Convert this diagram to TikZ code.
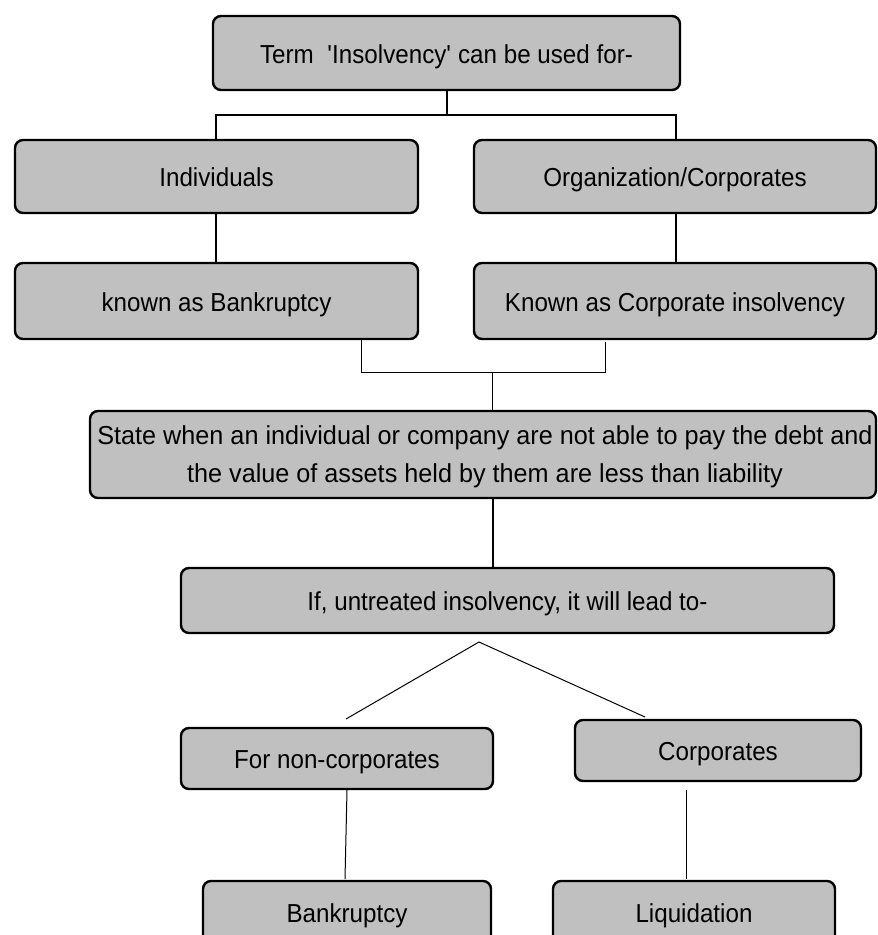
\documentclass[tikz,border=0pt]{standalone}
\usepackage{fontspec}
\setmainfont{Liberation Sans}[FakeStretch=0.93]
\newfontfamily\widefont{Liberation Sans}[FakeStretch=0.97]
\begin{document}
\begin{tikzpicture}[x=1pt,y=-1pt,
  box/.style={draw=black, line width=2.4pt, fill=boxgray, rounded corners=8pt,
    inner sep=0pt, align=center, font=\fontsize{26}{38}\selectfont,
    text height=24pt, text depth=3.4pt},
  tallbox/.style={box, text height=, text depth=},
  thickline/.style={draw=black, line width=2.2pt},
  thinline/.style={draw=black, line width=1pt}]
\definecolor{boxgray}{RGB}{192,192,192}
\useasboundingbox (0,0) rectangle (878,935);

% boxes
\node[box, minimum width=467pt, minimum height=74pt] (top) at (446.5,53) {Term\ \ \textquotesingle Insolvency\textquotesingle\ can be used for-};
\node[box, minimum width=403pt, minimum height=73pt] (ind) at (216.5,176.5) {Individuals};
\node[box, minimum width=402pt, minimum height=73pt] (org) at (675,176.5) {Organization/Corporates};
\node[box, minimum width=403pt, minimum height=76pt] (kab) at (216.5,301) {known as Bankruptcy};
\node[box, minimum width=402pt, minimum height=76pt] (kac) at (675,301) {Known as Corporate insolvency};
\node[tallbox, minimum width=786pt, minimum height=87pt] (state) at (483,454.5) {};
\node[font=\widefont\fontsize{26}{38}\selectfont, align=center, inner sep=0pt] (statetext) at (485,457)
  {State when an individual or company are not able to pay the debt and\\the value of assets held by them are less than liability};
\node[box, minimum width=653pt, minimum height=65pt] (lead) at (507.5,600.5) {If, untreated insolvency, it will lead to-};
\node[box, minimum width=312pt, minimum height=61pt] (nonc) at (337,758.5) {For non-corporates};
\node[box, minimum width=286pt, minimum height=61pt] (corp) at (718,750.5) {Corporates};
\node[box, minimum width=288pt, minimum height=62pt] (bank) at (347,912) {Bankruptcy};
\node[box, minimum width=282pt, minimum height=62pt] (liq) at (694,912) {Liquidation};

% upper tree
\coordinate (tj) at (447,115);
\draw[thickline] (top.south -| tj) -- (tj);
\draw[thickline] (ind.north -| 216,0) |- (tj) -| (org.north -| 676,0);
\draw[thickline] (ind.south -| 216,0) -- (kab.north -| 216,0);
\draw[thickline] (org.south -| 676,0) -- (kac.north -| 676,0);

% joining bracket
\coordinate (jL) at (361,372);
\coordinate (jR) at (605,372);
\coordinate (jRtop) at (605,342);
\coordinate (jC) at (492,372);
\draw[thinline] (kab.south -| jL) -- (jL) -- (jR) -- (jRtop);
\draw[thinline] (jC) -- (state.north -| jC);

% state to lead
\coordinate (sl) at (493,0);
\draw[thickline] (state.south -| sl) -- (lead.north -| sl);

% branches
\coordinate (apex) at (479,642);
\coordinate (dl) at (346,719);
\coordinate (dr) at (645,717);
\draw[thinline] (dl) -- (apex) -- (dr);

\coordinate (nb) at (345,879);
\draw[thinline] (nonc.south -| 347,0) -- (nb);
\coordinate (cl) at (686,790);
\coordinate (lb) at (686,879);
\draw[thinline] (cl) -- (lb);
\end{tikzpicture}
\end{document}
